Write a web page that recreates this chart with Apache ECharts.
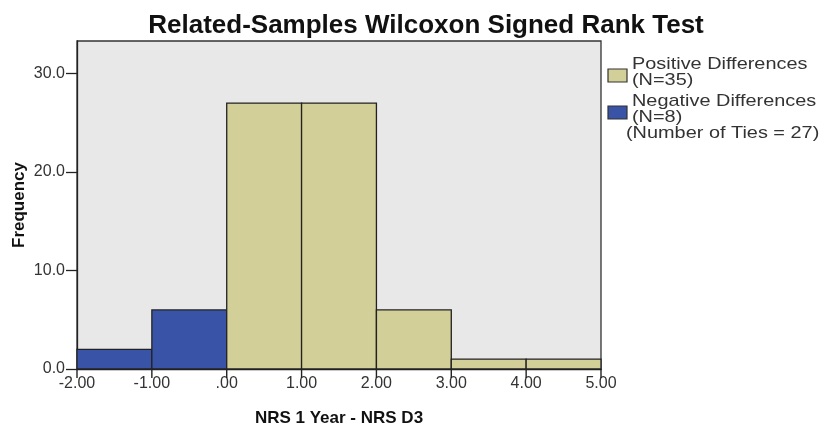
<!DOCTYPE html>
<html>
<head>
<meta charset="utf-8">
<script src="https://cdn.jsdelivr.net/npm/echarts@6/dist/echarts.min.js"></script>
<style>
  html, body { margin: 0; padding: 0; background: #fff; }
  #chart { width: 824px; height: 427px; }
</style>
</head>
<body>
<div id="chart"></div>
<script>
// Histogram bins of the paired difference (NRS 1 Year - NRS D3)
const binStart = [-2, -1, 0, 1, 2, 3, 4];
const binEnd   = [-1, 0, 1, 2, 3, 4, 5];
const counts   = [2, 6, 27, 27, 6, 1, 1];
const signs    = ['neg', 'neg', 'pos', 'pos', 'pos', 'pos', 'pos'];

const xTicks = [-2, -1, 0, 1, 2, 3, 4, 5];
const yTicks = [0, 10, 20, 30];

const legendItems = [
  { key: 'pos', lines: ['Positive Differences', '(N=35)'] },
  { key: 'neg', lines: ['Negative Differences', '(N=8)'] }
];
const tiesNote = '(Number of Ties = 27)';

const colors = { pos: '#d3cf98', neg: '#3953a6' };
const FONT = '"Liberation Sans", Arial, sans-serif';

const barData = binStart.map((s, i) => [s, binEnd[i], counts[i], signs[i]]);

function fmtX(v) {
  const s = Math.abs(v).toFixed(2);
  const body = Math.abs(v) < 1 ? s.slice(1) : s;
  return (v < 0 ? '-' : '') + body;
}

const chart = echarts.init(document.getElementById('chart'));

// Legend block drawn beside the plot
const graphic = [];
const legendTop = [64.5, 101.5];
legendItems.forEach((item, k) => {
  const yc = legendTop[k];
  graphic.push({
    type: 'rect', x: 608, y: yc + 4.5,
    shape: { width: 19, height: 13 },
    style: { fill: colors[item.key], stroke: '#333', lineWidth: 1.2 }
  });
  item.lines.forEach((ln, j) => {
    graphic.push({
      type: 'text', x: 632, y: yc + j * 15.5, scaleX: 1.17,
      style: { text: ln, font: '17px ' + FONT, fill: '#333', verticalAlign: 'middle' }
    });
  });
});
graphic.push({
  type: 'text', x: 626, y: 133, scaleX: 1.17,
  style: { text: tiesNote, font: '17px ' + FONT, fill: '#333', verticalAlign: 'middle' }
});

chart.setOption({
  animation: false,
  backgroundColor: '#ffffff',
  title: {
    text: 'Related-Samples Wilcoxon Signed Rank Test',
    left: 421, top: 8, textAlign: 'center',
    textStyle: { fontFamily: FONT, fontSize: 26, fontWeight: 'bold', color: '#111' }
  },
  grid: {
    left: 77, right: 223, top: 41, bottom: 58,
    outerBoundsMode: 'none', containLabel: false,
    show: true, backgroundColor: '#e8e8e8', borderColor: '#333', borderWidth: 1.3
  },
  xAxis: {
    type: 'value', min: -2, max: 5, interval: 1,
    name: 'NRS 1 Year - NRS D3', nameLocation: 'middle', nameGap: 41, nameMoveOverlap: false,
    nameTextStyle: { fontFamily: FONT, fontSize: 17, fontWeight: 'bold', color: '#111' },
    axisLine: { show: true, onZero: false, lineStyle: { color: '#222', width: 1.3 } },
    axisTick: { show: false },
    axisLabel: { fontFamily: FONT, fontSize: 16, color: '#333', margin: 7, formatter: fmtX },
    splitLine: { show: false }
  },
  yAxis: {
    type: 'value', min: 0, max: 33.3,
    name: 'Frequency', nameLocation: 'middle', nameGap: 49, nameRotate: 90, nameMoveOverlap: false,
    nameTextStyle: { fontFamily: FONT, fontSize: 17, fontWeight: 'bold', color: '#111' },
    axisLine: { show: true, onZero: false, lineStyle: { color: '#222', width: 1.3 } },
    axisTick: { show: true, length: 11, lineStyle: { color: '#222', width: 1.3 }, customValues: yTicks },
    axisLabel: { fontFamily: FONT, fontSize: 16, color: '#333', margin: 12,
      formatter: v => v.toFixed(1), customValues: yTicks },
    splitLine: { show: false }
  },
  series: [{
    type: 'custom',
    data: barData,
    encode: { x: [0, 1], y: 2 },
    z: 1,
    renderItem: function (params, api) {
      const a = api.coord([api.value(0), 0]);
      const b = api.coord([api.value(1), api.value(2)]);
      const key = barData[params.dataIndex][3];
      return {
        type: 'rect',
        shape: { x: a[0], y: b[1], width: b[0] - a[0], height: a[1] - b[1] },
        style: { fill: colors[key], stroke: '#222', lineWidth: 1.3 }
      };
    }
  }, {
    // outward tick marks under the x axis at each bin edge
    type: 'custom',
    data: xTicks.map(v => [v, 0]),
    encode: { x: 0, y: 1 },
    clip: false,
    silent: true,
    z: 3,
    renderItem: function (params, api) {
      const p = api.coord([api.value(0), 0]);
      return {
        type: 'line',
        shape: { x1: p[0], y1: p[1], x2: p[0], y2: p[1] + 9 },
        style: { stroke: '#222', lineWidth: 1.4 }
      };
    }
  }],
  graphic: graphic
});
</script>
</body>
</html>
